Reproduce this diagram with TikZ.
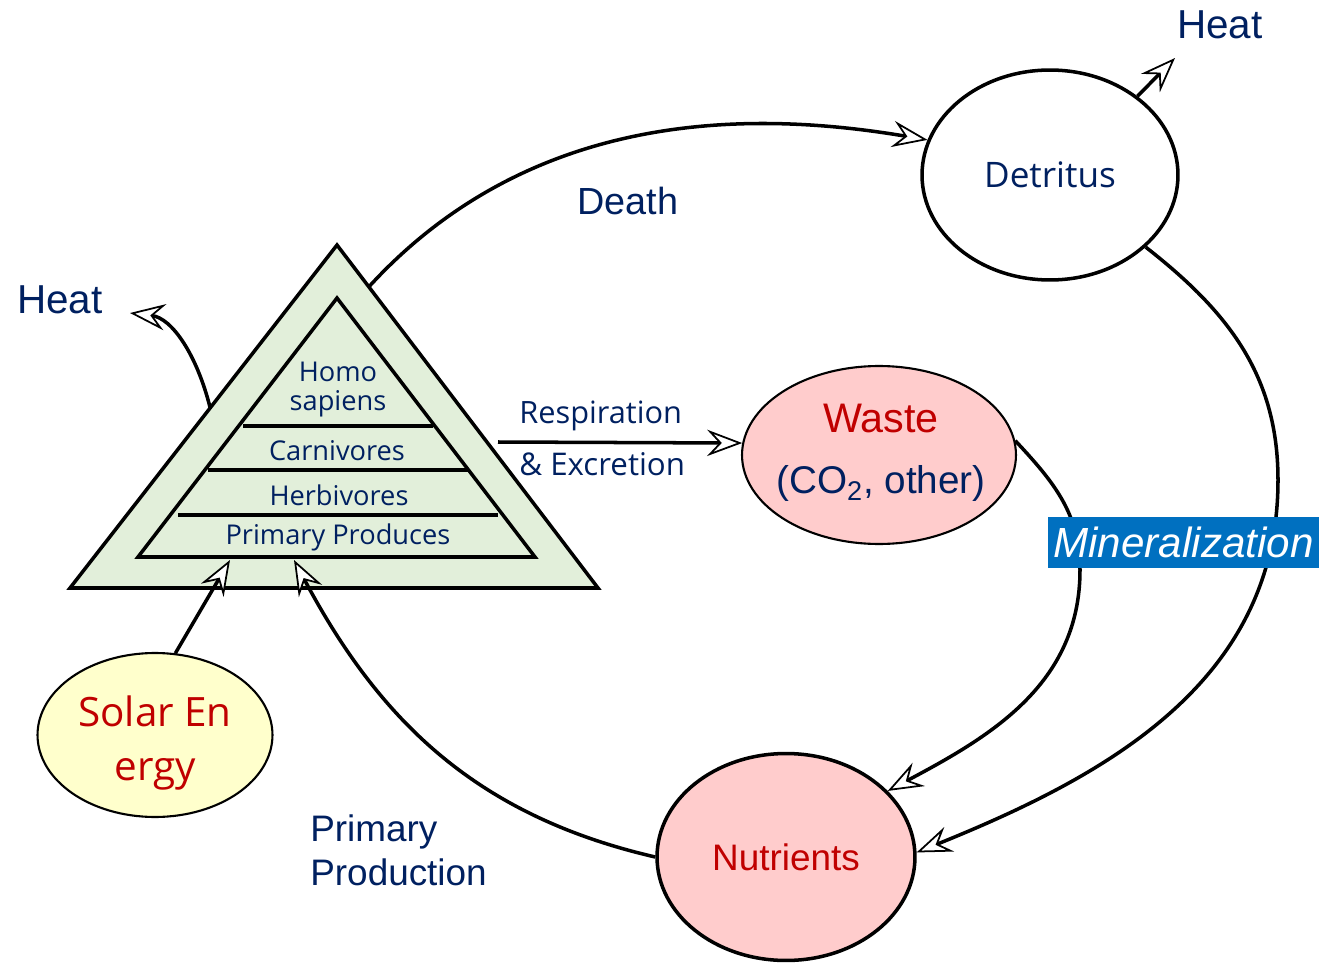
\documentclass[tikz,border=0pt]{standalone}
\usepackage{fontspec}
\setmainfont{Liberation Sans}
\newfontfamily\gothic{Open Sans}
\usetikzlibrary{arrows.meta,shapes.geometric,calc}
\definecolor{navytext}{HTML}{002060}
\definecolor{redtext}{HTML}{C00000}
\definecolor{pyrgreen}{HTML}{E2EFDA}
\definecolor{pinkfill}{HTML}{FFCCCC}
\definecolor{sunfill}{HTML}{FFFFCC}
\definecolor{minblue}{HTML}{0070C0}

\tikzset{
    flow/.style={line width=2pt, -{Stealth[open,fill=white,length=20pt,width=15pt,inset=7pt,line width=1pt]}},
    pool/.style={ellipse, draw, line width=2pt, inner sep=0pt},
    lbl/.style={text=navytext, inner sep=0pt},
}

\begin{document}
\begin{tikzpicture}[x=0.02cm,y=0.02cm]
        \useasboundingbox (0,0) rectangle (1319,-963);

        % pyramid
        \coordinate (apex) at (337,-245);
        \coordinate (bl) at (70,-588);
        \coordinate (br) at (598,-588);
        \filldraw[fill=pyrgreen, line width=2pt] (apex) -- (br) -- (bl) -- cycle;
        \coordinate (iapex) at (337,-298);
        \coordinate (ibl) at (138,-557);
        \coordinate (ibr) at (535,-557);
        \draw[line width=2pt] (iapex) -- (ibr) -- (ibl) -- cycle;
        \foreach \y/\l/\r in {426/243/433, 470/208/468, 515/178/498}
            \draw[line width=2pt] (\l,-\y) -- (\r,-\y);

        \node[lbl, align=center, font=\gothic\fontsize{15.5}{16.5}\selectfont] (homo) at (338,-390) {Homo\\sapiens};
        \node[lbl, font=\gothic\fontsize{15.5}{18}\selectfont] (carn) at (337,-451) {Carnivores};
        \node[lbl, font=\gothic\fontsize{15.5}{18}\selectfont] (herb) at (339,-495) {Herbivores};
        \node[lbl, font=\gothic\fontsize{15.5}{18}\selectfont] (prim) at (338,-537) {Primary Produces};

        % pools
        \node[pool, fill=white, minimum width=5.12cm, minimum height=4.2cm, text=navytext, font=\gothic\fontsize{20}{24}\selectfont] (det) at (1050,-175) {Detritus};
        \node[pool, fill=pinkfill, line width=1.2pt, minimum width=5.48cm, minimum height=3.56cm] (waste) at (879,-455) {};
        \node[lbl, align=center, font=\fontsize{22}{35}\selectfont] (wastetext) at (881,-453) {\textcolor{redtext}{\fontsize{23.5}{28}\selectfont Waste}\\(CO\textsubscript{2}, other)};
        \node[pool, fill=pinkfill, minimum width=5.16cm, minimum height=4.14cm, text=redtext, font=\fontsize{21}{25}\selectfont] (nut) at (786,-857) {Nutrients};
        \node[pool, fill=sunfill, line width=1.2pt, minimum width=4.7cm, minimum height=3.28cm] (solar) at (155,-735) {};
        \node[text=redtext, inner sep=0pt, align=center, font=\gothic\fontsize{23}{31}\selectfont] (solartext) at (155,-743) {Solar En\\ergy};

        % labels
        \node[lbl, font=\fontsize{23}{26}\selectfont] (heatL) at (60,-300) {Heat};
        \node[lbl, font=\fontsize{23}{26}\selectfont] (heatR) at (1220,-25) {Heat};
        \node[lbl, font=\fontsize{21.5}{26}\selectfont] (death) at (628,-201) {Death};
        \node[lbl, anchor=west, font=\gothic\fontsize{17.5}{21}\selectfont] (respL) at (519,-416) {Respiration};
        \node[lbl, anchor=west, font=\gothic\fontsize{17.8}{21}\selectfont] (excL) at (519,-464) {\& Excretion};
        \node[lbl, anchor=west, align=left, font=\fontsize{21}{25}\selectfont] (ppL) at (310,-850) {Primary\\Production};

        % connectors
        \coordinate (deathstart) at ($(apex)!0.122!(br)$);
        \draw[flow] (deathstart) .. controls (536,-104) and (762,-112) .. (det.164);

        \coordinate (heatfoot) at ($(apex)!0.475!(bl)$);
        \coordinate (heatLtip) at (130,-313);
        \draw[flow] (heatfoot) .. controls (197,-355) and (172,-318) .. (heatLtip);

        \coordinate (heatRtip) at (1175,-58);
        \draw[flow] (det.42) -- (heatRtip);

        \coordinate (respstart) at (498,-442);
        \draw[flow] (respstart) -- (waste.175);

        \coordinate (detbend) at (1278,-480);
        \draw[flow] (det.-37) to[out=-38,in=90] (detbend) to[out=-90,in=22] (nut.2);

        \coordinate (wastebend) at (1080,-570);
        \draw[flow] (waste.6) to[out=-47,in=90] (wastebend) to[out=-90,in=28] (nut.33);

        \coordinate (pptip) at (294,-560);
        \draw[flow] (nut.west) to[out=167,in=-62] (pptip);

        \coordinate (suntip) at (230,-560);
        \draw[flow] (solar.76) -- (suntip);

        \node[fill=minblue, text=white, inner sep=0pt, minimum width=5.42cm, minimum height=1.02cm, font=\itshape\fontsize{24}{28}\selectfont] (minl) at (1183.5,-542.5) {Mineralization};

    \end{tikzpicture}
\end{document}
